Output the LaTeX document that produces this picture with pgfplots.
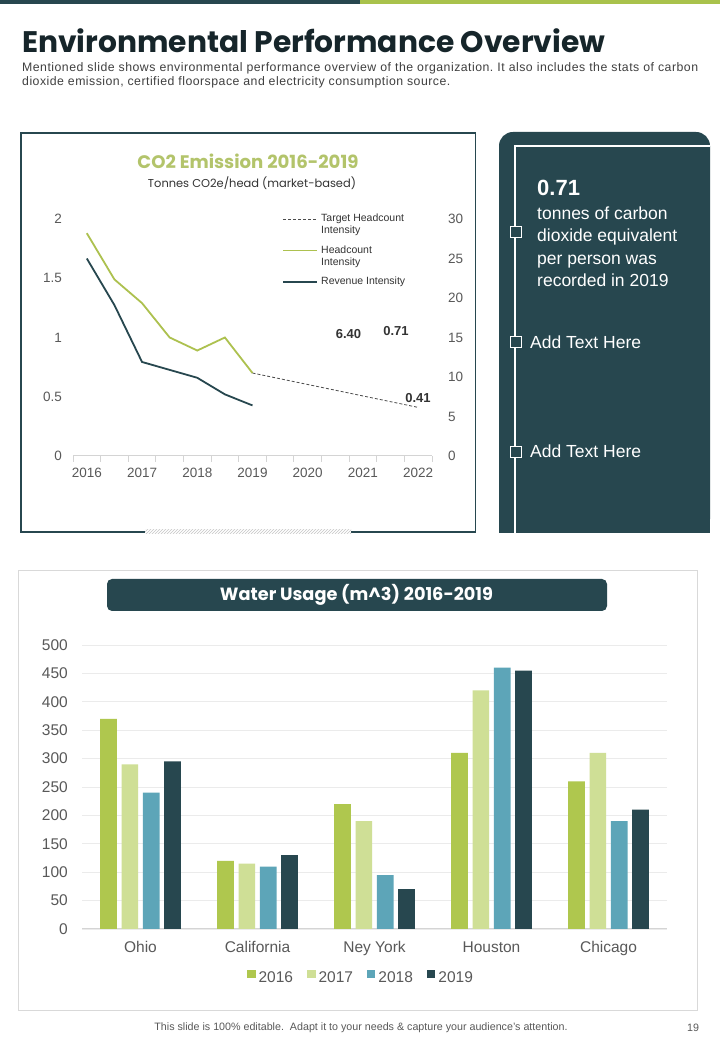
\documentclass[border=0pt]{standalone}
\usepackage{fontspec}
\setmainfont{Liberation Sans}
\newfontfamily\headfont{Poppins}
\newfontfamily\descfont[LetterSpace=3.9]{Liberation Sans}
\usepackage{pgfplots}
\pgfplotsset{compat=1.18}
\usetikzlibrary{patterns}

\definecolor{slate}{HTML}{27474F}
\definecolor{topgreen}{HTML}{A9C24C}
\definecolor{c2016}{HTML}{AFC74E}
\definecolor{c2017}{HTML}{CFDF96}
\definecolor{c2018}{HTML}{5DA5B8}
\definecolor{c2019}{HTML}{27474F}
\definecolor{co2title}{HTML}{B3C46B}
\definecolor{hcline}{HTML}{ADC14F}
\definecolor{ticktext}{HTML}{595959}
\definecolor{titlecol}{HTML}{16252A}
\definecolor{desc}{HTML}{404040}
\definecolor{gridcol}{HTML}{EBEBEB}
\definecolor{axiscol}{HTML}{D4D4D4}

\begin{document}
\begin{tikzpicture}[x=1pt,y=1pt]
\useasboundingbox (0,0) rectangle (720,1040);
\fill[white] (0,0) rectangle (720,1040);
\coordinate (co2sw) at (73,584);
\coordinate (watersw) at (82,111);

% top strip
\fill[slate] (0,1036) rectangle (360,1040);
\fill[topgreen] (360,1036) rectangle (720,1040);

% heading
\node[anchor=base west, inner sep=0] at (22,987)
  {\resizebox{583pt}{!}{\headfont\bfseries\color{titlecol}Environmental Performance Overview}};
\node[anchor=north west, inner sep=0, text width=676pt, align=justify,
      font=\descfont\fontsize{12.3}{14}\selectfont\frenchspacing, text=desc] at (22,977.5)
  {Mentioned slide shows environmental performance overview of the organization. It also includes the stats of carbon\linebreak
   dioxide emission, certified floorspace and electricity consumption source.};

% ---- CO2 panel ----
\draw[slate, line width=1.5] (20.75,508) rectangle (475.25,907);
\fill[white] (145,505) rectangle (351,511);
\fill[pattern=north east lines, pattern color=gray!45] (145,506) rectangle (351,510);

\node at (248,879) {\resizebox{221pt}{!}{\headfont\bfseries\color{co2title}CO2 Emission 2016-2019}};
\node at (252,857) {\resizebox{208pt}{!}{\headfont\color{black!80}Tonnes CO2e/head (market-based)}};

\begin{axis}[
    at={(co2sw)}, anchor=south west, scale only axis,
    width=359pt, height=237pt,
    xmin=2015.75, xmax=2022.25, ymin=0, ymax=2,
    axis x line*=bottom, axis y line*=left,
    x axis line style={axiscol, line width=1},
    y axis line style={draw=none},
    xtick={2016,2017,2018,2019,2020,2021,2022},
    minor xtick={2015.75,2016.25,2016.75,2017.25,2017.75,2018.25,2018.75,2019.25,2019.75,2020.25,2020.75,2021.25,2021.75,2022.25},
    tick align=outside, major tick length=0pt, minor tick length=6pt,
    minor tick style={axiscol, line width=1},
    ytick={0,0.5,1,1.5,2}, ytick style={draw=none},
    /pgf/number format/1000 sep={},
    /pgf/number format/assume math mode=true,
    tick label style={font=\fontsize{13.5}{16}\selectfont, text=ticktext},
    xticklabel style={anchor=north, inner sep=0pt, yshift=-12pt},
    yticklabel style={anchor=east, inner sep=0pt, xshift=-11pt},
    clip=false,
]
\addplot[hcline, line width=1.8] coordinates {(2016,1.88)(2016.5,1.49)(2017,1.29)(2017.5,1.00)(2018,0.89)(2018.5,1.00)(2019,0.70)};
\addplot[black!70, line width=0.8, dash pattern=on 3pt off 2pt] coordinates {(2019,0.70)(2022,0.41)};
\end{axis}

\begin{axis}[
    at={(co2sw)}, anchor=south west, scale only axis,
    width=359pt, height=237pt,
    xmin=2015.75, xmax=2022.25, ymin=0, ymax=30,
    hide x axis, axis y line*=right,
    y axis line style={draw=none},
    ytick={0,5,10,15,20,25,30}, ytick style={draw=none},
    /pgf/number format/assume math mode=true,
    tick label style={font=\fontsize{13.5}{16}\selectfont, text=ticktext},
    yticklabel style={anchor=west, inner sep=0pt, xshift=16pt},
    clip=false,
]
\addplot[slate, line width=1.8] coordinates {(2016,25.0)(2016.5,19.1)(2017,11.9)(2017.5,10.9)(2018,9.9)(2018.5,7.8)(2019,6.4)};
\end{axis}

% CO2 legend
\draw[black!70, line width=0.8, dash pattern=on 3pt off 2pt] (283,821) -- (317,821);
\draw[hcline, line width=1.8] (283,789.5) -- (317,789.5);
\draw[slate, line width=1.8] (283,758) -- (317,758);
\begin{scope}[every node/.style={anchor=west, inner sep=0, font=\fontsize{10.5}{12}\selectfont, text=black!80}]
\node at (321,821) {Target Headcount};
\node at (321,809) {Intensity};
\node at (321,790) {Headcount};
\node at (321,777) {Intensity};
\node at (321,758) {Revenue Intensity};
\end{scope}

% value labels
\begin{scope}[every node/.style={inner sep=0, font=\fontsize{13}{15}\bfseries\selectfont, text=black!80}]
\node at (348.5,706) {6.40};
\node at (396,709) {0.71};
\node at (418,642) {0.41};
\end{scope}

% ---- right panel ----
\fill[slate, rounded corners=14pt] (499,507) rectangle (710,908);
\fill[slate] (499,507) rectangle (710,880);
\draw[white, line width=1.3] (515,507) -- (515,894) -- (710,894);
\foreach \yy in {808,698,588}
  \draw[white, fill=slate, line width=1] (510,\yy-5.5) rectangle (521,\yy+5.5);
\node[anchor=base west, inner sep=0, text=white, font=\fontsize{22}{26}\bfseries\selectfont] at (537,844) {0.71};
\begin{scope}[every node/.style={anchor=base west, inner sep=0, text=white, font=\fontsize{17.5}{21}\selectfont}]
\node at (537,820.5) {tonnes of carbon};
\node at (537,798.2) {dioxide equivalent};
\node at (537,775.9) {per person was};
\node at (537,753.6) {recorded in 2019};
\node at (530,691.5) {Add Text Here};
\node at (530,582.5) {Add Text Here};
\end{scope}

% ---- water panel ----
\draw[gray!30, line width=0.8] (18.5,30) rectangle (697,470);
\fill[slate, rounded corners=5pt] (107,429) rectangle (607,461);
\node at (356.5,445) {\resizebox{273pt}{!}{\headfont\bfseries\color{white}Water Usage (m\^{}3) 2016-2019}};

\begin{axis}[
    at={(watersw)}, anchor=south west, scale only axis,
    width=585pt, height=284pt,
    ybar=4.6pt, bar width=16.7pt,
    xmin=-0.5, xmax=4.5, ymin=0, ymax=500,
    xtick={0,1,2,3,4},
    xticklabels={Ohio,California,Ney York,Houston,Chicago},
    ytick={0,50,100,150,200,250,300,350,400,450,500},
    ymajorgrids, grid style={gridcol, line width=0.8},
    axis x line*=bottom, axis y line*=left,
    x axis line style={axiscol, line width=1},
    y axis line style={draw=none},
    major tick length=0pt, tick style={draw=none},
    /pgf/number format/assume math mode=true,
    tick label style={font=\fontsize{15.5}{18}\selectfont, text=ticktext},
    xticklabel style={anchor=north, inner sep=0pt, yshift=-12pt, text height=11.5pt, text depth=3pt},
    yticklabel style={anchor=east, inner sep=0pt, xshift=-14pt},
    legend columns=4,
    legend style={at={(axis description cs:0.4752,-0.169)}, anchor=center,
        draw=none, fill=none, font=\fontsize{15.5}{18}\selectfont, text=ticktext,
        nodes={inner sep=0pt},
        /tikz/every odd column/.append style={column sep=3pt},
        /tikz/every even column/.append style={column sep=14pt}},
    legend image code/.code={\fill[#1] (0pt,0pt) rectangle (8.5pt,8.5pt);},
]
\addplot[fill=c2016, draw=none] coordinates {(0,370)(1,120)(2,220)(3,310)(4,260)};
\addplot[fill=c2017, draw=none] coordinates {(0,290)(1,115)(2,190)(3,420)(4,310)};
\addplot[fill=c2018, draw=none] coordinates {(0,240)(1,110)(2,95)(3,460)(4,190)};
\addplot[fill=c2019, draw=none] coordinates {(0,295)(1,130)(2,70)(3,455)(4,210)};
\legend{2016,2017,2018,2019}
\end{axis}

% footer
\node[inner sep=0, font=\fontsize{10.7}{12}\selectfont, text=ticktext] at (361,12)
  {This slide is 100\% editable.\ \ Adapt it to your needs \& capture your audience’s attention.};
\node[inner sep=0, font=\fontsize{10.7}{12}\selectfont, text=ticktext] at (693,12) {19};
\end{tikzpicture}
\end{document}
